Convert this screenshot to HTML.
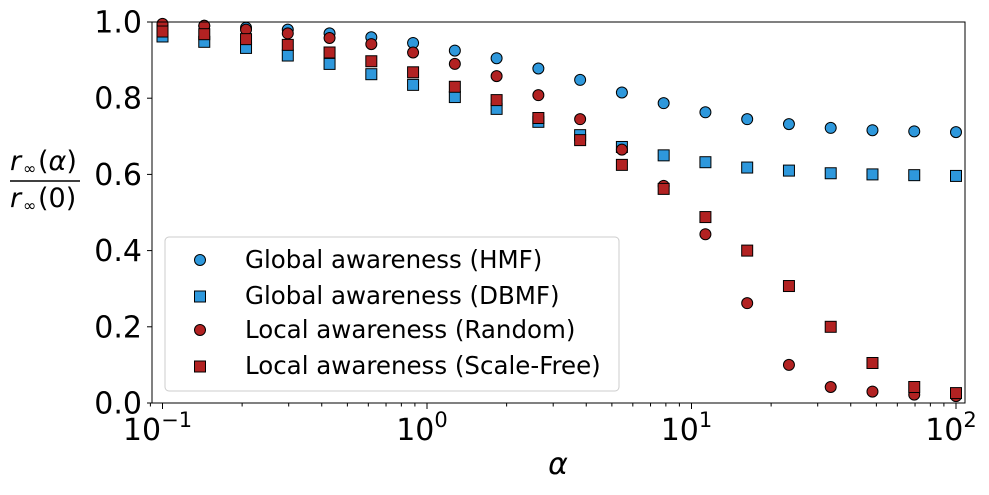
<!DOCTYPE html>
<html><head><meta charset="utf-8"><style>
body{margin:0;background:#fff;}
svg text{font-family:"DejaVu Sans","Liberation Sans",sans-serif;}
</style></head><body>
<svg id="chart" width="989" height="490" xmlns="http://www.w3.org/2000/svg">
<g id="marks"></g>
<rect x="152" y="22" width="813" height="381" fill="none" stroke="#000" stroke-width="1"/>
<g id="axes"></g>
<g>
<text x="10" y="170" font-size="27" font-style="italic">r</text><text x="23" y="174" font-size="16">∞</text><text x="38" y="170" font-size="27">(<tspan font-style="italic">α</tspan>)</text>
<line x1="10" y1="181" x2="80" y2="181" stroke="#000" stroke-width="1.5"/>
<text x="10" y="207" font-size="27" font-style="italic">r</text><text x="23" y="211" font-size="16">∞</text><text x="38" y="207" font-size="27">(0)</text>
</g>
<text x="558" y="474" font-size="30" font-style="italic" text-anchor="middle">α</text>
<g>
<rect x="165" y="237" width="454" height="154" rx="4" fill="#fff" fill-opacity="0.8" stroke="#ccc"/>
<g><circle cx="200" cy="260" r="5.5" fill="#2e98dc" stroke="#000"/><text x="245" y="268" font-size="24.5">Global awareness (HMF)</text></g>
<g><rect x="194.5" y="291" width="11" height="11" fill="#2e98dc" stroke="#000"/><text x="245" y="304" font-size="24.5">Global awareness (DBMF)</text></g>
<g><circle cx="200" cy="330" r="5.5" fill="#b22222" stroke="#000"/><text x="245" y="338" font-size="24.5">Local awareness (Random)</text></g>
<g><rect x="194.5" y="361" width="11" height="11" fill="#b22222" stroke="#000"/><text x="245" y="374" font-size="24.5">Local awareness (Scale-Free)</text></g>
</g>
</svg>
<script>
const hmf=[0.99,0.99,0.985,0.98,0.97,0.96,0.945,0.925,0.905,0.878,0.848,0.815,0.787,0.763,0.745,0.732,0.722,0.716,0.713,0.711];
const dbmf=[0.962,0.948,0.932,0.912,0.89,0.863,0.835,0.803,0.772,0.738,0.703,0.672,0.65,0.632,0.618,0.61,0.603,0.6,0.598,0.596];
const randomNet=[0.995,0.99,0.98,0.97,0.958,0.942,0.92,0.89,0.858,0.808,0.745,0.665,0.57,0.443,0.262,0.1,0.042,0.03,0.022,0.018];
const scaleFree=[0.975,0.968,0.955,0.94,0.92,0.897,0.868,0.83,0.795,0.748,0.69,0.625,0.562,0.488,0.4,0.307,0.2,0.105,0.042,0.026];
const alphaExpStart=-1, alphaExpEnd=2, nPoints=20;
const yTicks=[0,0.2,0.4,0.6,0.8,1.0];
const yTickLabels=["0.0","0.2","0.4","0.6","0.8","1.0"];
const xDecades=[-1,0,1,2];
const xTickLabels=["10","10","10","10"];
const xTickExps=["−1","0","1","2"];

const NS="http://www.w3.org/2000/svg";
const X=v=>427+264.5*Math.log10(v);
const Y=v=>403-381*v;
function mk(t,a,p){const e=document.createElementNS(NS,t);for(const k in a)e.setAttribute(k,a[k]);p.appendChild(e);return e;}
const marks=document.getElementById('marks'),axes=document.getElementById('axes');
const alphas=[];for(let i=0;i<nPoints;i++)alphas.push(Math.pow(10,alphaExpStart+(alphaExpEnd-alphaExpStart)*i/(nPoints-1)));
function series(arr,shape,color,name){
 arr.forEach((v,i)=>{
  const cx=X(alphas[i]),cy=Y(v);let e;
  if(shape==='c')e=mk('circle',{cx:cx,cy:cy,r:5.5,fill:color,stroke:'#000','stroke-width':1},marks);
  else e=mk('rect',{x:cx-5.5,y:cy-5.5,width:11,height:11,fill:color,stroke:'#000','stroke-width':1},marks);
  
  
 });
}
series(hmf,'c','#2e98dc','hmf');
series(dbmf,'s','#2e98dc','dbmf');
series(randomNet,'c','#b22222','random');
series(scaleFree,'s','#b22222','scale-free');
yTicks.forEach((t,i)=>{
 mk('line',{x1:147,x2:152,y1:Y(t),y2:Y(t),stroke:'#000'},axes);
 const tx=mk('text',{x:142,y:Y(t)+10.5,'font-size':30,'text-anchor':'end'},axes);tx.textContent=yTickLabels[i];
 
 
});
xDecades.forEach((d,i)=>{
 const x=X(Math.pow(10,d));
 mk('line',{x1:x,x2:x,y1:403,y2:409,stroke:'#000'},axes);
 const tx=mk('text',{x:x-5,y:440,'font-size':30,'text-anchor':'middle'},axes);
 tx.textContent=xTickLabels[i];
 
 
 const sp=mk('tspan',{dy:-13,'font-size':21},tx);sp.textContent=xTickExps[i];
 for(let m=2;m<10&&d<2;m++){const xm=X(m*Math.pow(10,d));mk('line',{x1:xm,x2:xm,y1:403,y2:406.5,stroke:'#000'},axes);}
});
mk('line',{x1:X(0.09),x2:X(0.09),y1:403,y2:406.5,stroke:'#000'},axes);
</script>
</body></html>
